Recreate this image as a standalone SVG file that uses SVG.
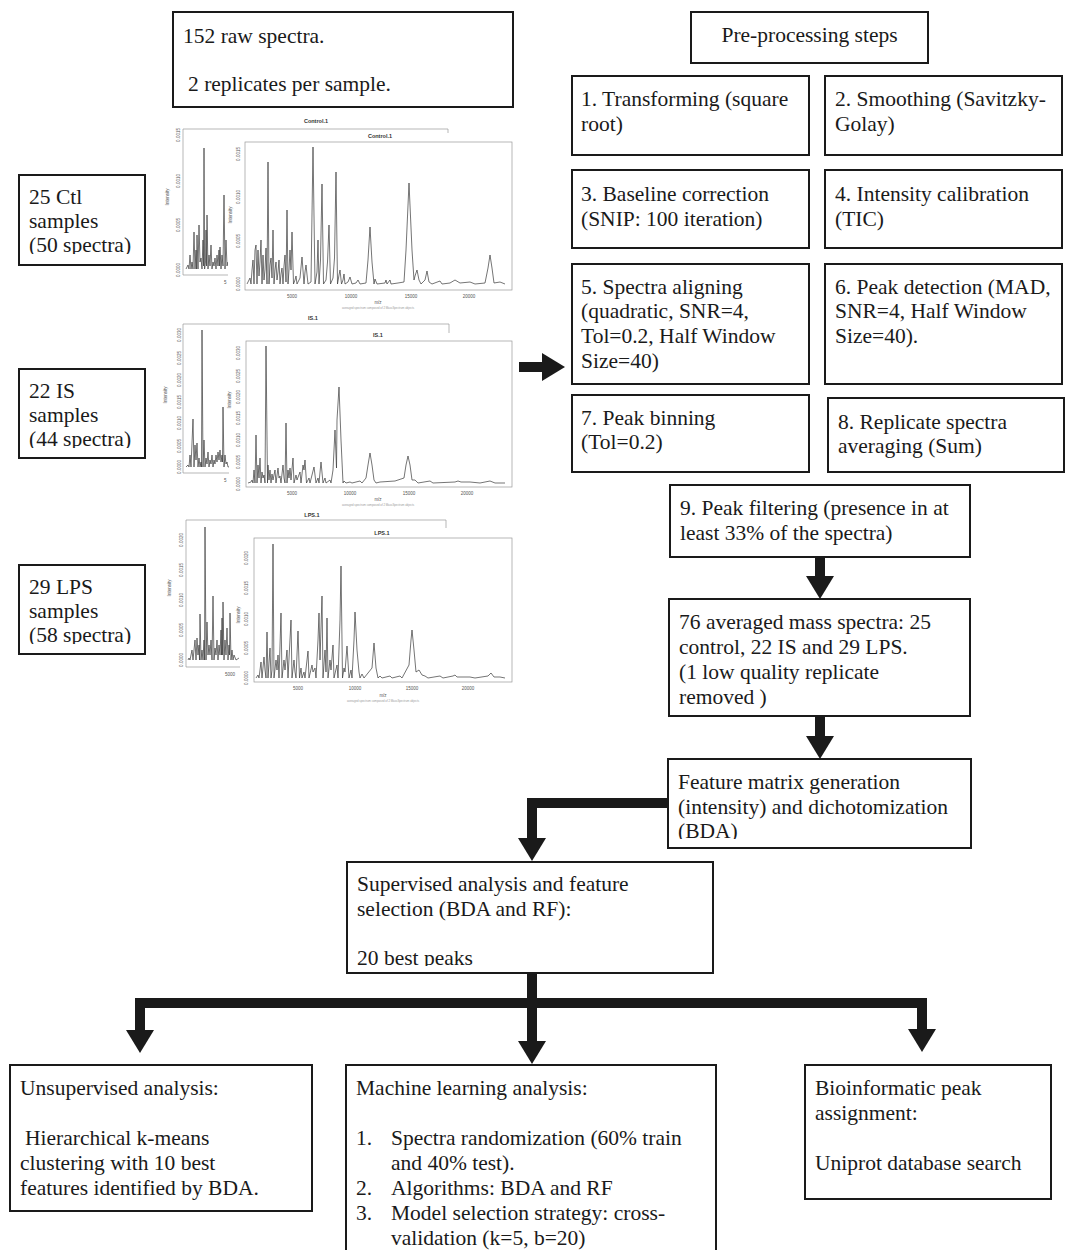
<svg xmlns="http://www.w3.org/2000/svg" width="1068" height="1250" viewBox="0 0 1068 1250">
<style>
.box{fill:#fff;stroke:#1a1a1a;stroke-width:2}
.t{font-family:"Liberation Serif","Times New Roman",serif;font-size:21.5px;fill:#1a1a1a}
.ax{font-family:"Liberation Sans",Arial,sans-serif;font-size:4.5px;fill:#555}
.pt{font-family:"Liberation Sans",Arial,sans-serif;font-size:5.5px;font-weight:bold;fill:#333;text-anchor:middle}
.sub{font-family:"Liberation Sans",Arial,sans-serif;font-size:2.8px;fill:#999;text-anchor:middle}
.fr{fill:none;stroke:#999;stroke-width:0.7}
.sp{fill:none;stroke:#3a3a3a;stroke-width:0.7;stroke-linejoin:round}
.arr{fill:none;stroke:#1a1a1a;stroke-width:10;stroke-linejoin:miter}
.bg{fill:#fff}
</style>
<defs>
<marker id="head" markerUnits="userSpaceOnUse" markerWidth="23" markerHeight="28" refX="0" refY="14" orient="auto" viewBox="0 0 23 28">
<path d="M0,0 L23,14 L0,28 z" fill="#1a1a1a"/>
</marker>
<clipPath id="cCtl"><rect x="19" y="175" width="126" height="79"/></clipPath>
<clipPath id="cIS"><rect x="19" y="369" width="126" height="79"/></clipPath>
<clipPath id="cLPS"><rect x="19" y="565" width="126" height="79"/></clipPath>
<clipPath id="cFeat"><rect x="668" y="759" width="303" height="80"/></clipPath>
<clipPath id="cSup"><rect x="347" y="862" width="366" height="104"/></clipPath>
</defs>
<rect width="1068" height="1250" fill="#fff"/>

<!-- Spectra plots -->
<g id="plot-control">
<text class="pt" x="316" y="123">Control.1</text>
<path class="fr" d="M448 137 L448 129 L183 129 L183 275 L245 275"/>
<g class="ax">
<text transform="translate(180,135) rotate(-90)" text-anchor="middle">0.0015</text>
<text transform="translate(180,181) rotate(-90)" text-anchor="middle">0.0010</text>
<text transform="translate(180,225) rotate(-90)" text-anchor="middle">0.0005</text>
<text transform="translate(180,270) rotate(-90)" text-anchor="middle">0.0000</text>
<text transform="translate(169,197) rotate(-90)" text-anchor="middle">Intensity</text>
<text x="224" y="284">5</text>
</g>
<polyline class="sp" points="186,269 188,265 189,269 190,255 191,269 192,262 193,269 194,232 195,269 196,250 196.5,269 197,235 198,269 199,225 200,262 201,258 202,269 203,240 203.6,266 204,148 204.6,269 205.5,262 206,230 206.6,266 207,215 208,269 209,255 210,266 211,245 212,269 213,262 214,266 215,258 216,269 217,255 218,266 219,250 219.6,266 220,247 221,269 222,255 223,266 224,195 225,269 226,240 227,266 228,262 229,269 232,266 235,269 240,265 245,269"/>
<rect class="bg" x="228" y="133" width="287" height="183"/>
<text class="pt" x="380" y="138">Control.1</text>
<rect class="fr" x="245" y="142" width="267" height="148"/>
<g class="ax">
<text transform="translate(240,154) rotate(-90)" text-anchor="middle">0.0015</text>
<text transform="translate(240,197) rotate(-90)" text-anchor="middle">0.0010</text>
<text transform="translate(240,241) rotate(-90)" text-anchor="middle">0.0005</text>
<text transform="translate(240,284) rotate(-90)" text-anchor="middle">0.0000</text>
<text transform="translate(232,215) rotate(-90)" text-anchor="middle">Intensity</text>
<text x="292" y="298" text-anchor="middle">5000</text>
<text x="351" y="298" text-anchor="middle">10000</text>
<text x="411" y="298" text-anchor="middle">15000</text>
<text x="469" y="298" text-anchor="middle">20000</text>
<text x="378" y="304" text-anchor="middle">m/z</text>
</g>
<text class="sub" x="378" y="309">averaged spectrum composed of 2 MassSpectrum objects</text>
<polyline class="sp" points="247,284 249,280 250,278 251,284 252,270 253,260 254,284 255,250 256,245 257,284 258,250 259,276 260,262 261,240 262,284 263,255 264,280 265,270 266,248 267,284 268,162 269,284 270,265 271,258 272,278 273,230 274,284 275,270 276,262 277,280 278,272 279,260 280,284 281,274 282,268 283,284 284,266 285,255 286,282 287,210 288,284 289,270 290,250 291,270 292,232 293.5,284 295,280 296,276 297,284 300,278 302,257 304,284 305,272 306,265 308,284 311,282 313,147 315,284 317,272 318,240 319,284 320.5,260 322,184 323.5,284 326,280 327.5,262 329,225 330.5,284 333,278 334.5,258 336,172 337.5,284 339,275 340,270 341.5,284 343,280 344,274 345,284 348,282 350,277 352,284 356,283 358,280 360,284 366,283 368,260 370,227 372,262 374,284 375,279 377,284 385,283 386,280 387,284 390,280 391,284 398,283 404,282 406,250 409,183 412,250 414,280 415,276 417,270 419,280 421,284 425,280 427,271 429,282 432,284 440,281 442,284 450,283 455,280 460,283 470,282 475,284 485,283 488,268 490,255 492,268 494,283 500,282 505,284"/>
</g>

<g id="plot-is">
<text class="pt" x="313" y="320">IS.1</text>
<path class="fr" d="M449 333 L449 324 L183 324 L183 473 L229 473"/>
<g class="ax">
<text transform="translate(181,335) rotate(-90)" text-anchor="middle">0.0030</text>
<text transform="translate(181,358) rotate(-90)" text-anchor="middle">0.0025</text>
<text transform="translate(181,380) rotate(-90)" text-anchor="middle">0.0020</text>
<text transform="translate(181,402) rotate(-90)" text-anchor="middle">0.0015</text>
<text transform="translate(181,423) rotate(-90)" text-anchor="middle">0.0010</text>
<text transform="translate(181,446) rotate(-90)" text-anchor="middle">0.0005</text>
<text transform="translate(181,467) rotate(-90)" text-anchor="middle">0.0000</text>
<text transform="translate(167,395) rotate(-90)" text-anchor="middle">Intensity</text>
<text x="224" y="482">5</text>
</g>
<polyline class="sp" points="186,467 188,465 189,467 190,455 191,467 193,419 194,467 195,445 196,460 197,443 198,467 199,458 200,467 201,462 201.5,467 202,330 203,467 204,440 205,467 206,458 207,464 208,452 209,467 210,460 211,464 212,455 213,467 214,460 215,464 216,455 217,462 218,452 219,460 220,450 221,462 222,455 222.5,462 223,407 224,467 225,455 226,464 227,462 228,467 235,466 245,467"/>
<rect class="bg" x="229" y="333" width="286" height="178"/>
<text class="pt" x="378" y="337">IS.1</text>
<rect class="fr" x="246" y="341" width="266" height="146"/>
<g class="ax">
<text transform="translate(240,353) rotate(-90)" text-anchor="middle">0.0030</text>
<text transform="translate(240,376) rotate(-90)" text-anchor="middle">0.0025</text>
<text transform="translate(240,397) rotate(-90)" text-anchor="middle">0.0020</text>
<text transform="translate(240,418) rotate(-90)" text-anchor="middle">0.0015</text>
<text transform="translate(240,440) rotate(-90)" text-anchor="middle">0.0010</text>
<text transform="translate(240,462) rotate(-90)" text-anchor="middle">0.0005</text>
<text transform="translate(240,484) rotate(-90)" text-anchor="middle">0.0000</text>
<text transform="translate(231,400) rotate(-90)" text-anchor="middle">Intensity</text>
<text x="292" y="495" text-anchor="middle">5000</text>
<text x="350" y="495" text-anchor="middle">10000</text>
<text x="409" y="495" text-anchor="middle">15000</text>
<text x="467" y="495" text-anchor="middle">20000</text>
<text x="378" y="501" text-anchor="middle">m/z</text>
</g>
<text class="sub" x="378" y="506">averaged spectrum composed of 2 MassSpectrum objects</text>
<polyline class="sp" points="248,483 251,482 252,480 253,483 254,470 255,483 256,435 257,483 258,465 259,478 260,458 261,483 262,472 263,478 264,475 265,483 266,346 267.5,483 268,465 269,480 270,470 271,483 272,474 273,480 275,470 276,483 278,468 279,478 280,476 281,483 283,465 284,478 285,483 286,423 287,483 288,470 289,478 290,468 291,480 293,458 294,483 296,475 297,480 300,472 301,483 303,465 304,470 305,460 306.5,483 309,478 310,483 312,475 314,467 316,483 318,478 319,483 321,462 323,483 325,478 326,483 330,480 331,483 333,470 335,430 336.5,468 337,420 339,387 341,440 343,483 344,481 346,483 350,482 352,483 360,481 362,483 366,478 368,465 370,453 372,465 374,480 376,483 380,482 395,481 404,478 406,465 408,456 410,465 412,480 415,480 418,483 430,481 433,483 455,482 458,481 461,482 470,482 480,483 490,481 495,483 505,483"/>
</g>

<g id="plot-lps">
<text class="pt" x="312" y="517">LPS.1</text>
<path class="fr" d="M446 528 L446 520 L186 520 L186 667 L240 667"/>
<g class="ax">
<text transform="translate(183,540) rotate(-90)" text-anchor="middle">0.0020</text>
<text transform="translate(183,570) rotate(-90)" text-anchor="middle">0.0015</text>
<text transform="translate(183,600) rotate(-90)" text-anchor="middle">0.0010</text>
<text transform="translate(183,630) rotate(-90)" text-anchor="middle">0.0005</text>
<text transform="translate(183,660) rotate(-90)" text-anchor="middle">0.0000</text>
<text transform="translate(171,588) rotate(-90)" text-anchor="middle">Intensity</text>
<text x="230" y="676" text-anchor="middle">5000</text>
</g>
<polyline class="sp" points="188,660 189,658 190,660 192,650 193,660 195,640 196,660 197,638 198,655 199,645 199.5,660 200,614 201,660 202,650 203,660 204,640 204.5,660 205,527 206,660 207,622 208,655 209,645 210,655 211,640 212,660 213,596 214,660 215,648 216,655 217,640 218,660 219,645 220,655 221,630 221.5,655 222,618 222.6,655 223,602 224,660 225,640 226,655 227,628 228,660 229,645 229.5,655 230,613 231,660 232,650 233,660 234,655 236,660 239,658"/>
<rect class="bg" x="240" y="528" width="275" height="180"/>
<text class="pt" x="382" y="535">LPS.1</text>
<rect class="fr" x="254" y="538" width="258" height="144"/>
<g class="ax">
<text transform="translate(248,558) rotate(-90)" text-anchor="middle">0.0020</text>
<text transform="translate(248,588) rotate(-90)" text-anchor="middle">0.0015</text>
<text transform="translate(248,619) rotate(-90)" text-anchor="middle">0.0010</text>
<text transform="translate(248,648) rotate(-90)" text-anchor="middle">0.0005</text>
<text transform="translate(248,678) rotate(-90)" text-anchor="middle">0.0000</text>
<text transform="translate(240,615) rotate(-90)" text-anchor="middle">Intensity</text>
<text x="298" y="690" text-anchor="middle">5000</text>
<text x="355" y="690" text-anchor="middle">10000</text>
<text x="412" y="690" text-anchor="middle">15000</text>
<text x="468" y="690" text-anchor="middle">20000</text>
<text x="383" y="697" text-anchor="middle">m/z</text>
</g>
<text class="sub" x="383" y="702">averaged spectrum composed of 2 MassSpectrum objects</text>
<polyline class="sp" points="256,678 258,675 259,678 261,662 262,678 264,657 265,670 266,678 267,632 268,678 270,648 271,678 272,670 273,544 274,678 276,660 277,670 278,655 279,678 281,613 282,678 284,660 285,670 287,650 288,678 291,620 292,678 294,660 295,672 296,678 298,631 299.5,678 301,668 302,678 304,672 305,678 308,651 309,678 312,665 313,672 315,668 316,678 318,640 319,613 320,660 322,596 323,678 325,650 326,672 327,618 328,678 330,660 331,670 333,645 334,678 337,665 338,678 340,620 341,566 342.5,678 344,668 345,672 347,646 349,678 351,670 352,678 354,640 355,612 357,650 359,672 360,678 362,674 364,678 372,668 374,643 376,668 378,678 380,676 382,678 390,676 392,678 400,676 402,678 409,665 411,640 412,630 414,650 416,672 419,670 422,675 425,676 428,678 440,676 443,678 453,676 455,675 457,677 470,677 475,678 488,676 491,673 494,677 500,677 505,678"/>
</g>

<!-- Nodes -->
<g id="raw">
<rect class="box" x="173" y="12" width="340" height="95"/>
<text class="t" x="183" y="43">152 raw spectra.</text>
<text class="t" x="188" y="91">2 replicates per sample.</text>
</g>
<g id="ctl">
<rect class="box" x="19" y="175" width="126" height="90"/>
<g clip-path="url(#cCtl)">
<text class="t" x="29" y="204">25 Ctl</text>
<text class="t" x="29" y="228">samples</text>
<text class="t" x="29" y="252">(50 spectra)</text>
</g>
</g>
<g id="is">
<rect class="box" x="19" y="369" width="126" height="89"/>
<g clip-path="url(#cIS)">
<text class="t" x="29" y="398">22 IS</text>
<text class="t" x="29" y="422">samples</text>
<text class="t" x="29" y="446">(44 spectra)</text>
</g>
</g>
<g id="lps">
<rect class="box" x="19" y="565" width="126" height="89"/>
<g clip-path="url(#cLPS)">
<text class="t" x="29" y="594">29 LPS</text>
<text class="t" x="29" y="618">samples</text>
<text class="t" x="29" y="642">(58 spectra)</text>
</g>
</g>
<g id="preproc">
<rect class="box" x="691" y="12" width="237" height="51"/>
<text class="t" x="809.5" y="42" text-anchor="middle">Pre-processing steps</text>
</g>
<g id="step1">
<rect class="box" x="572" y="76" width="237" height="79"/>
<text class="t" x="581" y="106">1. Transforming (square</text>
<text class="t" x="581" y="131">root)</text>
</g>
<g id="step2">
<rect class="box" x="825" y="76" width="237" height="79"/>
<text class="t" x="835" y="106">2. Smoothing (Savitzky-</text>
<text class="t" x="835" y="131">Golay)</text>
</g>
<g id="step3">
<rect class="box" x="572" y="170" width="237" height="78"/>
<text class="t" x="581" y="201">3. Baseline correction</text>
<text class="t" x="581" y="226">(SNIP: 100 iteration)</text>
</g>
<g id="step4">
<rect class="box" x="825" y="170" width="237" height="78"/>
<text class="t" x="835" y="201">4. Intensity calibration</text>
<text class="t" x="835" y="226">(TIC)</text>
</g>
<g id="step5">
<rect class="box" x="572" y="264" width="237" height="120"/>
<text class="t" x="581" y="294">5. Spectra aligning</text>
<text class="t" x="581" y="318">(quadratic, SNR=4,</text>
<text class="t" x="581" y="343">Tol=0.2, Half Window</text>
<text class="t" x="581" y="368">Size=40)</text>
</g>
<g id="step6">
<rect class="box" x="825" y="264" width="237" height="120"/>
<text class="t" x="835" y="294">6. Peak detection (MAD,</text>
<text class="t" x="835" y="318">SNR=4, Half Window</text>
<text class="t" x="835" y="343">Size=40).</text>
</g>
<g id="step7">
<rect class="box" x="572" y="395" width="237" height="77"/>
<text class="t" x="581" y="425">7. Peak binning</text>
<text class="t" x="581" y="449">(Tol=0.2)</text>
</g>
<g id="step8">
<rect class="box" x="828" y="398" width="236" height="74"/>
<text class="t" x="838" y="429">8. Replicate spectra</text>
<text class="t" x="838" y="453">averaging (Sum)</text>
</g>
<g id="step9">
<rect class="box" x="670" y="485" width="300" height="72"/>
<text class="t" x="680" y="515">9. Peak filtering (presence in at</text>
<text class="t" x="680" y="540">least 33% of the spectra)</text>
</g>
<g id="averaged">
<rect class="box" x="669" y="599" width="301" height="117"/>
<text class="t" x="679" y="629">76 averaged mass spectra: 25</text>
<text class="t" x="679" y="654">control, 22 IS and 29 LPS.</text>
<text class="t" x="679" y="679">(1 low quality replicate</text>
<text class="t" x="679" y="704">removed )</text>
</g>
<g id="feature">
<rect class="box" x="668" y="759" width="303" height="89"/>
<g clip-path="url(#cFeat)">
<text class="t" x="678" y="789">Feature matrix generation</text>
<text class="t" x="678" y="814">(intensity) and dichotomization</text>
<text class="t" x="678" y="838">(BDA)</text>
</g>
</g>
<g id="supervised">
<rect class="box" x="347" y="862" width="366" height="111"/>
<g clip-path="url(#cSup)">
<text class="t" x="357" y="891">Supervised analysis and feature</text>
<text class="t" x="357" y="916">selection (BDA and RF):</text>
<text class="t" x="357" y="965">20 best peaks</text>
</g>
</g>
<g id="unsupervised">
<rect class="box" x="10" y="1065" width="302" height="146"/>
<text class="t" x="20" y="1095">Unsupervised analysis:</text>
<text class="t" x="25" y="1145">Hierarchical k-means</text>
<text class="t" x="20" y="1170">clustering with 10 best</text>
<text class="t" x="20" y="1195">features identified by BDA.</text>
</g>
<g id="ml">
<rect class="box" x="346" y="1065" width="370" height="200"/>
<text class="t" x="356" y="1095">Machine learning analysis:</text>
<text class="t" x="356" y="1145">1.</text>
<text class="t" x="391" y="1145">Spectra randomization (60% train</text>
<text class="t" x="391" y="1170">and 40% test).</text>
<text class="t" x="356" y="1195">2.</text>
<text class="t" x="391" y="1195">Algorithms: BDA and RF</text>
<text class="t" x="356" y="1220">3.</text>
<text class="t" x="391" y="1220">Model selection strategy: cross-</text>
<text class="t" x="391" y="1245">validation (k=5, b=20)</text>
</g>
<g id="bio">
<rect class="box" x="805" y="1065" width="246" height="134"/>
<text class="t" x="815" y="1095">Bioinformatic peak</text>
<text class="t" x="815" y="1120">assignment:</text>
<text class="t" x="815" y="1170">Uniprot database search</text>
</g>

<!-- Connectors -->
<g id="connectors">
<line class="arr" x1="519" y1="367" x2="542" y2="367" marker-end="url(#head)"/>
<line class="arr" x1="820" y1="557" x2="820" y2="576" marker-end="url(#head)"/>
<line class="arr" x1="820" y1="716" x2="820" y2="736" marker-end="url(#head)"/>
<polyline class="arr" points="668,803 532,803 532,838" marker-end="url(#head)"/>
<polyline class="arr" points="532,973 532,1003 140,1003 140,1030" marker-end="url(#head)"/>
<line class="arr" x1="532" y1="1000" x2="532" y2="1041" marker-end="url(#head)"/>
<polyline class="arr" points="530,1003 922,1003 922,1029" marker-end="url(#head)"/>
</g>
</svg>
